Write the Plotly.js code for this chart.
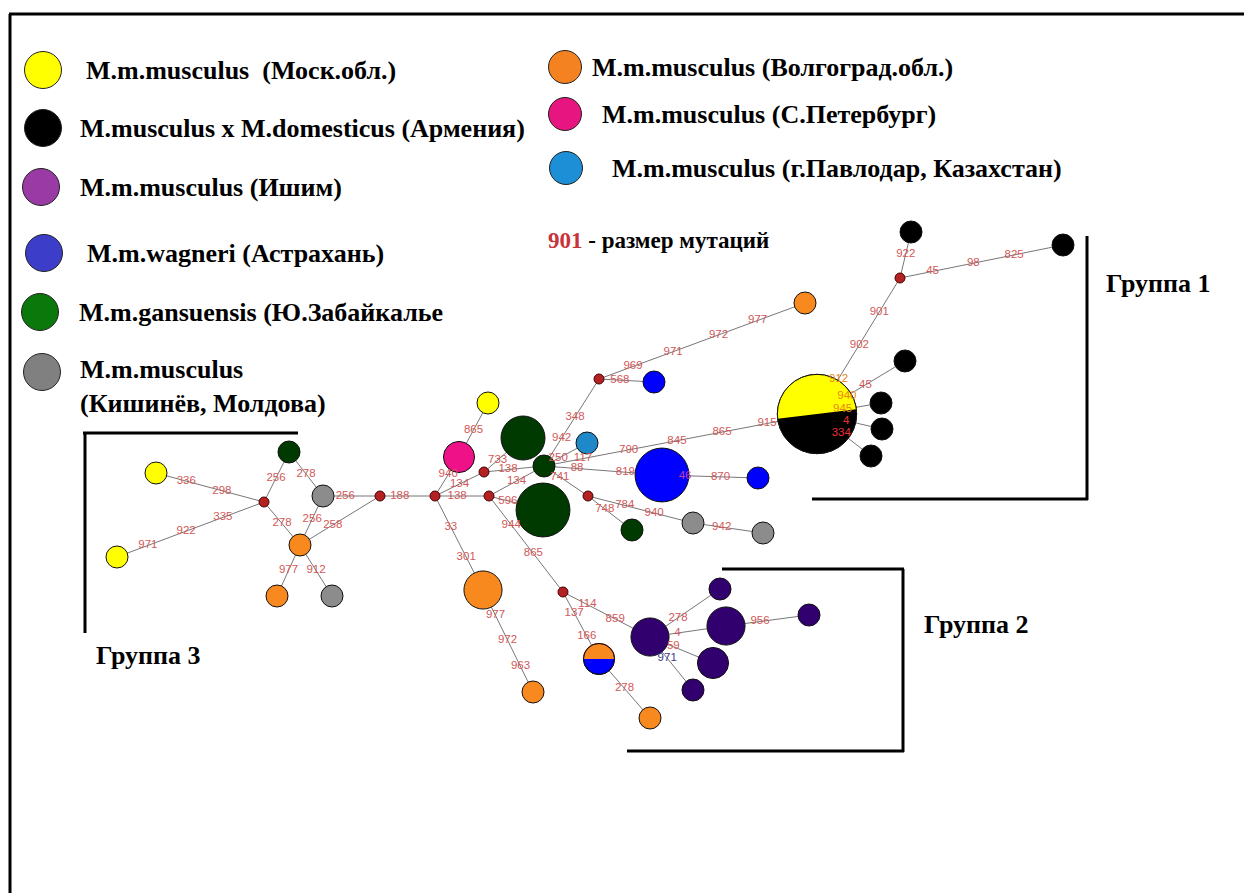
<!DOCTYPE html>
<html><head><meta charset="utf-8">
<script src="https://cdn.plot.ly/plotly-3.0.1.min.js"></script>
<style>html,body{margin:0;padding:0;background:#fff;overflow:hidden}#chart{width:1244px;height:893px}</style>
</head><body><div id="chart"></div>
<script>
// ---------- DATA ----------
// populations
const popKeys  = ['moscow','armenia','ishim','wagneri','gansuensis','kishinev','volgograd','spb','pavlodar'];
const popNames = ['M.m.musculus  (Моск.обл.)','M.musculus x M.domesticus (Армения)','M.m.musculus (Ишим)',
  'M.m.wagneri (Астрахань)','M.m.gansuensis (Ю.Забайкалье','M.m.musculus<br>(Кишинёв, Молдова)',
  'M.m.musculus (Волгоград.обл.)','M.m.musculus (С.Петербург)','M.m.musculus (г.Павлодар, Казахстан)'];

// haplotype network nodes (H = haplotypes, M = median vectors), layout coordinates
const nodeId   = ['H1','H2','H3','H4','H5','H6','H7','H8','H9','H10','H11','H12','H13','H14','H15','H16','H17','H18','H19','H20',
                  'H21','H22','H23','H24','H25','H26','H27','H28','H29','H30','H31','H32','H33','H34','H35','H36','H37',
                  'M1','M2','M3','M4','M5','M6','M7','M8','M9'];
const nodeX    = [817,911,1063,905,881,882,871,805,654,488,459,523,544,543,587,662,758,632,693,763,
                  483,533,599,650,650,720,726,809,713,693,289,156,323,300,117,277,332,
                  900,599,380,435,484,489,588,264,563];
const nodeY    = [414,232,245,361,403,429,456,303,382,403,457,438,466,510,443,475,478,530,523,533,
                  590,692,659,718,637,589,626,615,663,690,452,473,496,545,557,596,596,
                  278,379,496,496,472,496,496,502,592];
const nodeFreq = [13,1,1,1,1,1,1,1,1,1,2,4,1,6,1,6,1,1,1,1,
                  3,1,2,1,3,1,3,1,2,1,1,1,1,1,1,1,1,
                  0,0,0,0,0,0,0,0,0];
const nodePop  = ['moscow|armenia','armenia','armenia','armenia','armenia','armenia','armenia','volgograd','wagneri','moscow',
                  'spb','gansuensis','gansuensis','gansuensis','pavlodar','wagneri','wagneri','gansuensis','kishinev','kishinev',
                  'volgograd','volgograd','volgograd|wagneri','volgograd','ishim','ishim','ishim','ishim','ishim','ishim',
                  'gansuensis','moscow','kishinev','volgograd','moscow','volgograd','kishinev',
                  'median','median','median','median','median','median','median','median','median'];

// edges
const edgeFrom = ['M1','M1','M1','H1','H1','H1','H1','H13','M2','M2','M2','H10','M4','M4','M5','M5','M4','M3','M4','H21',
                  'M6','M6','M6','H13','H13','H16','M7','M7','H19','H13','M9','M9','H23','H25','H25','H27','H25','H25',
                  'H33','M3','H33','H31','M8','M8','H32','H35','H34','H34'];
const edgeTo   = ['H2','H3','H1','H4','H5','H6','H7','H1','H13','H9','H8','H11','H11','M5','H12','H13','M6','M4','H21','H22',
                  'H14','H13','M9','M7','H16','H17','H19','H18','H20','H15','H25','H23','H24','H26','H27','H28','H29','H30',
                  'M3','H34','H34','H33','H31','H34','M8','M8','H36','H37'];

// mutation labels: edge index, fraction along the edge, mutation position
const labelEdge = [0, 1,1,1, 2,2,2, 3,3, 4, 5, 6, 7,7,7,7,7, 8,8, 9, 10,10,10,10, 11, 12, 13, 14, 15, 16, 17, 18,18,
                   19,19,19, 20, 21, 22,22, 23, 24,24, 25,25, 26,26, 27, 28, 29, 30,30, 31,31, 32, 33, 34, 35, 36, 37,
                   38, 39, 40, 41, 42, 43, 44,44, 45,45,45, 46, 47];
const labelT    = [0.52, 0.2,0.45,0.7, 0.25,0.49,0.74, 0.34,0.55, 0.40, 0.45, 0.45, 0.143,0.31,0.487,0.652,0.817, 0.436,0.68, 0.38,
                   0.165,0.36,0.58,0.77, 0.5, 0.55, 0.5, 0.35, 0.4, 0.41, 0.36, 0.33,0.65,
                   0.25,0.49,0.75, 0.35, 0.5, 0.3,0.6, 0.36, 0.28,0.69, 0.24,0.61, 0.35,0.63, 0.38, 0.41, 0.33, 0.28,0.6, 0.31,0.66,
                   0.5, 0.4, 0.36, 0.41, 0.37, 0.4,
                   0.39, 0.59, 0.47, 0.5, 0.48, 0.5, 0.28,0.61, 0.21,0.47,0.72, 0.5, 0.5];
const labelText = ['922', '45','98','825', '901','902','912', '940','45', '945', '4', '334', '117','790','845','865','915', '348','942', '568',
                   '969','971','972','977', '865', '940', '134', '733', '138', '138', '188', '33','301',
                   '977','972','963', '596', '134', '944','865', '741', '88','819', '46','870', '784','940', '748', '942', '250', '114','859', '137','166',
                   '278', '278', '4', '956', '59', '971',
                   '256', '258', '256', '278', '256', '278', '336','298', '971','922','335', '977', '912'];

// ---------- STYLE ----------
const legendColor = {moscow:'#FFFF00',armenia:'#000000',ishim:'#9A3AA4',wagneri:'#3C3ECA',gansuensis:'#0A780A',
  kishinev:'#808080',volgograd:'#F58220',spb:'#E6157F',pavlodar:'#1C8FD6'};
const nodeColor = {moscow:'#FFFF00',armenia:'#000000',ishim:'#32006E',wagneri:'#0000FF',gansuensis:'#003A00',
  kishinev:'#8C8C8C',volgograd:'#F7891E',spb:'#EE1188',pavlodar:'#1E88C8',median:'#B22222'};
const labelColorOverride = {'2:912':'#E8841A','3:940':'#E8841A','4:945':'#E8841A','5:4':'#F03030','6:334':'#F03030',
  '25:46':'#C03CB0','37:971':'#3C3C8C'};
const splitTilt = {H1: 7, H23: 0};  // degrees of the dividing line
const LABEL_COL = '#D25858';

const idx = {}; nodeId.forEach((id,i)=>idx[id]=i);
const radius = f => f===0 ? 5 : 11*Math.sqrt(f);

// edges
const ex=[], ey=[];
edgeFrom.forEach((a,i)=>{const p=idx[a], q=idx[edgeTo[i]];
  ex.push(nodeX[p],nodeX[q],null); ey.push(nodeY[p],nodeY[q],null);});
const traces = [{type:'scatter',mode:'lines',x:ex,y:ey,line:{color:'#777777',width:1},hoverinfo:'skip'}];

// nodes
const mcol=[], msz=[], mline=[];
nodeId.forEach((id,i)=>{
  const pops = nodePop[i].split('|');
  mcol.push(nodeColor[pops[pops.length-1]]);
  msz.push(2*radius(nodeFreq[i]));
  mline.push(nodePop[i]==='median' ? '#4A0000' : '#111111');
});
traces.push({type:'scatter',mode:'markers',x:nodeX,y:nodeY,
  marker:{color:mcol,size:msz,line:{color:mline,width:1},opacity:1},hoverinfo:'skip'});

// split nodes: upper half drawn as a polygon
nodeId.forEach((id,i)=>{
  const pops = nodePop[i].split('|');
  if (pops.length<2) return;
  const r = radius(nodeFreq[i]), a0 = (splitTilt[id]||0)*Math.PI/180;
  const px=[], py=[];
  for (let k=0;k<=60;k++){const a=a0+Math.PI*k/60; px.push(nodeX[i]+r*Math.cos(a)); py.push(nodeY[i]-r*Math.sin(a));}
  traces.push({type:'scatter',mode:'lines',x:px,y:py,fill:'toself',fillcolor:nodeColor[pops[0]],
    line:{width:id==='H23'?1.2:0,color:'#C0502A'},hoverinfo:'skip'});
  traces.push({type:'scatter',mode:'markers',x:[nodeX[i]],y:[nodeY[i]],
    marker:{color:'rgba(0,0,0,0)',size:2*r,opacity:1,line:{color:'#111111',width:1}},hoverinfo:'skip'});
});

// mutation labels
const lx=[], ly=[], lc=[];
labelEdge.forEach((e,k)=>{const p=idx[edgeFrom[e]], q=idx[edgeTo[e]], t=labelT[k];
  lx.push(nodeX[p]+(nodeX[q]-nodeX[p])*t); ly.push(nodeY[p]+(nodeY[q]-nodeY[p])*t);
  lc.push(labelColorOverride[e+':'+labelText[k]] || LABEL_COL);});
traces.push({type:'scatter',mode:'text',x:lx,y:ly,text:labelText,textposition:'middle center',
  textfont:{family:'Arial, Liberation Sans, sans-serif',size:11.5,color:lc},hoverinfo:'skip'});

// legend (drawn in the page, like the original)
const legRows = [
  {k:'moscow',cx:43,cy:70,tx:84,sz:37},{k:'armenia',cx:43,cy:128,tx:78,sz:37},{k:'ishim',cx:41,cy:187,tx:78,sz:37},
  {k:'wagneri',cx:44,cy:253,tx:85,sz:37},{k:'gansuensis',cx:40,cy:312,tx:77,sz:37},{k:'kishinev',cx:42,cy:372,tx:78,sz:37,ty:386},
  {k:'volgograd',cx:565,cy:67,tx:590,sz:33},{k:'spb',cx:565,cy:114,tx:600,sz:33},{k:'pavlodar',cx:566,cy:168,tx:610,sz:33}];
traces.push({type:'scatter',mode:'markers',x:legRows.map(r=>r.cx),y:legRows.map(r=>r.cy),
  marker:{color:legRows.map(r=>legendColor[r.k]),size:legRows.map(r=>r.sz),opacity:1,line:{color:'#222',width:1}},hoverinfo:'skip'});

const serif = 'Liberation Serif, Times New Roman, serif';
const annotations = legRows.map(r=>({x:r.tx,y:r.ty||r.cy,xref:'x',yref:'y',xanchor:'left',yanchor:'middle',align:'left',
  text:'<b>'+popNames[popKeys.indexOf(r.k)]+'</b>',showarrow:false,font:{family:serif,size:26,color:'#000'}}));
annotations.push({x:546,y:240,xref:'x',yref:'y',xanchor:'left',yanchor:'middle',showarrow:false,
  text:'<b><span style="color:#C8333A">901</span> - размер мутаций</b>',font:{family:serif,size:23,color:'#000'}});
[['Группа 1',1104,283],['Группа 2',922,624],['Группа 3',94,655]].forEach(g=>annotations.push({x:g[1],y:g[2],xref:'x',yref:'y',
  xanchor:'left',yanchor:'middle',showarrow:false,text:'<b>'+g[0]+'</b>',font:{family:serif,size:26,color:'#000'}}));

const L = (x0,y0,x1,y1,w)=>({type:'line',xref:'x',yref:'y',x0,y0,x1,y1,line:{color:'#000',width:w}});
const shapes = [
  L(9,14,1244,14,3), L(10,14,10,893,3),
  L(1087,236,1087,500,3), L(812,499,1088,499,3),
  L(722,569,904,569,3), L(903,569,903,752,3), L(627,751,904,751,3),
  L(83,433,298,433,3), L(85,433,85,633,3)];

Plotly.newPlot('chart', traces, {
  width:1244,height:893,margin:{l:0,r:0,t:0,b:0},showlegend:false,
  paper_bgcolor:'#fff',plot_bgcolor:'#fff',
  xaxis:{range:[0,1244],visible:false,fixedrange:true},
  yaxis:{range:[893,0],visible:false,fixedrange:true},
  annotations,shapes,hovermode:false
},{staticPlot:true,displayModeBar:false});
</script></body></html>
